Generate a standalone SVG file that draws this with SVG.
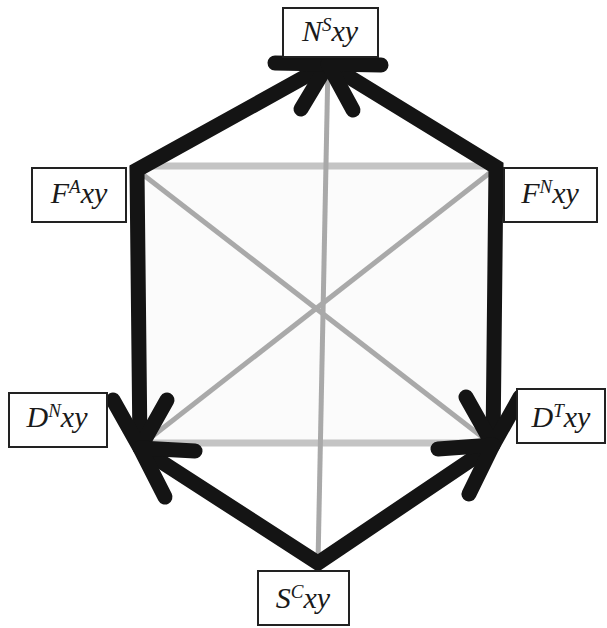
<svg xmlns="http://www.w3.org/2000/svg" width="607" height="628" viewBox="0 0 607 628">
<style>
.box{fill:#fff;stroke:#222;stroke-width:2}
.lbl{font-family:"Liberation Serif","DejaVu Serif",serif;font-style:italic;font-size:30px;fill:#1a1a1a;text-anchor:middle}
.sup{font-size:19px}
.edge{fill:none;stroke:#141414;stroke-width:15;stroke-linejoin:miter;stroke-miterlimit:10}
.head{fill:none;stroke:#141414;stroke-width:15;stroke-linecap:round;stroke-linejoin:round}
.gh{stroke:#c4c4c4;stroke-width:7}
.gd{stroke:#a9a9a9;stroke-width:5}
</style>
<rect width="607" height="628" fill="#fff"/>
<polygon points="137,167 495,167 490,443 140,443" fill="#fbfbfb"/>
<g id="connectors">
<line class="gh" x1="137" y1="166" x2="495" y2="166"/>
<line class="gh" x1="142" y1="443" x2="490" y2="443"/>
<line class="gd" x1="328" y1="64" x2="318" y2="563"/>
<line class="gd" x1="137" y1="170" x2="490" y2="443"/>
<line class="gd" x1="496" y1="168" x2="140" y2="446"/>
<path class="edge" d="M140,448 L137,170 L328,64"/>
<path class="edge" d="M493,445 L496,167 L328,64"/>
<path class="edge" d="M140,448 L318,563 L493,445"/>
<path class="head" d="M301,109 L328,64 L275,63"/>
<path class="head" d="M353,110 L328,64 L381,65"/>
<path class="head" d="M113,400 L140,448 L167,400"/>
<path class="head" d="M195,451 L140,448 L165,497"/>
<path class="head" d="M466,397 L493,445 L520,397"/>
<path class="head" d="M438,449 L493,445 L469,494"/>
</g>
<g id="NS"><rect class="box" x="283" y="8" width="95" height="49"/><text class="lbl" x="330" y="41">N<tspan class="sup" dy="-10">S</tspan><tspan dy="10">xy</tspan></text></g>
<g id="FA"><rect class="box" x="32" y="168" width="94" height="54"/><text class="lbl" x="79" y="203">F<tspan class="sup" dy="-10">A</tspan><tspan dy="10">xy</tspan></text></g>
<g id="FN"><rect class="box" x="504" y="168" width="93" height="54"/><text class="lbl" x="550" y="203">F<tspan class="sup" dy="-10">N</tspan><tspan dy="10">xy</tspan></text></g>
<g id="DN"><rect class="box" x="9" y="393" width="98" height="54"/><text class="lbl" x="57" y="427">D<tspan class="sup" dy="-10">N</tspan><tspan dy="10">xy</tspan></text></g>
<g id="DT"><rect class="box" x="517" y="389" width="88" height="54"/><text class="lbl" x="561" y="427">D<tspan class="sup" dy="-10">T</tspan><tspan dy="10">xy</tspan></text></g>
<g id="SC"><rect class="box" x="258" y="571" width="91" height="54"/><text class="lbl" x="303" y="608">S<tspan class="sup" dy="-10">C</tspan><tspan dy="10">xy</tspan></text></g>
</svg>
